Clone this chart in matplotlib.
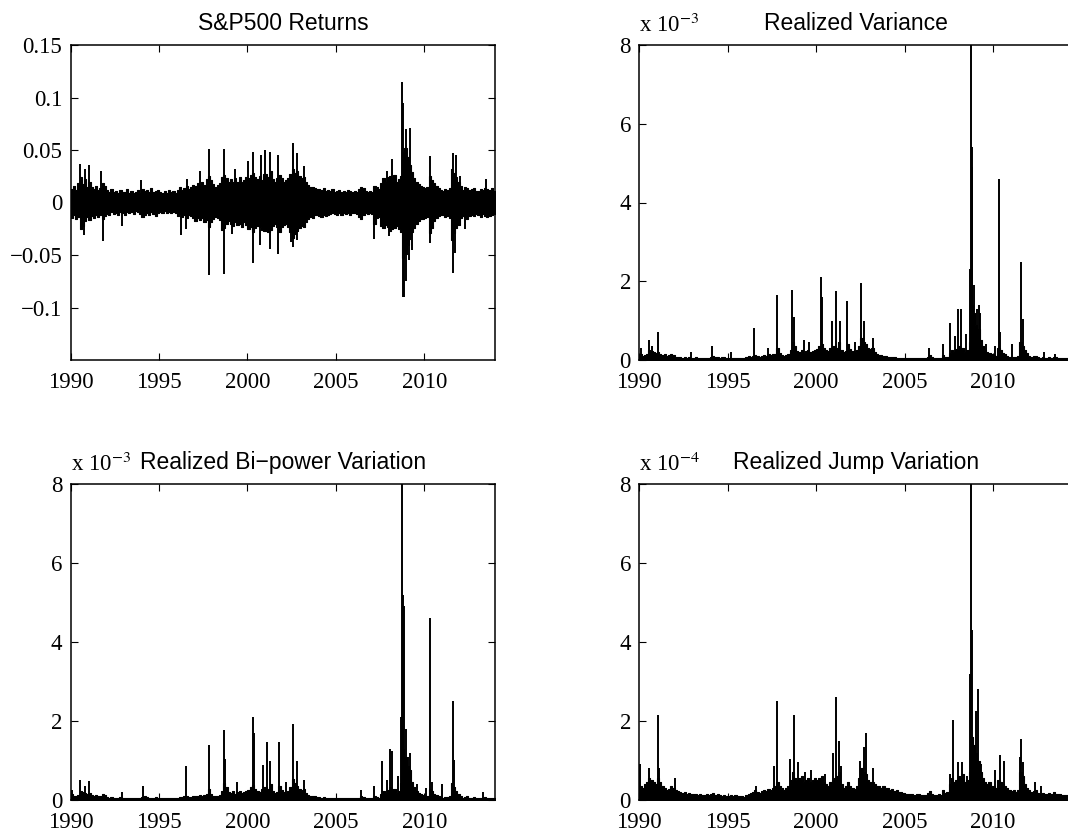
# -*- coding: utf-8 -*-

import numpy as np
import matplotlib.pyplot as plt

plt.rcParams['font.family'] = ['Liberation Serif', 'DejaVu Serif']
plt.rcParams['mathtext.fontset'] = 'stix'

# time grid: 8 steps per year, 1990 .. 2014
t0 = 1990.0
steps_per_year = 8

# S&P500 daily returns, envelope of the dense band (units of 0.01)
ret_up = [
    1.3, 1.6, 1.2, 1.9, 2.4, 1.8, 2.2, 1.5,   # 1990
    2.0, 1.5, 1.3, 1.6, 1.2, 1.4, 1.9, 1.6,   # 1991
    1.2, 1.0, 1.3, 1.0, 1.1, 0.9, 1.2, 1.0,   # 1992
    1.0, 1.3, 0.9, 1.1, 0.9, 1.0, 1.2, 0.9,   # 1993
    1.3, 1.1, 1.2, 1.0, 1.4, 1.0, 1.1, 1.2,   # 1994
    1.0, 0.9, 1.1, 0.9, 1.2, 1.0, 1.1, 0.9,   # 1995
    1.2, 1.5, 1.2, 1.4, 1.6, 1.3, 1.5, 1.7,   # 1996
    1.6, 1.9, 1.7, 2.0, 1.7, 2.2, 2.5, 2.1,   # 1997
    1.8, 1.5, 1.7, 1.9, 2.4, 2.6, 2.3, 2.0,   # 1998
    2.2, 2.0, 2.3, 2.0, 2.4, 2.0, 2.1, 2.4,   # 1999
    2.3, 2.6, 2.8, 2.4, 2.2, 2.5, 2.1, 2.7,   # 2000
    2.7, 2.4, 3.0, 2.2, 2.0, 2.3, 2.6, 2.3,   # 2001
    2.0, 2.1, 2.3, 2.7, 3.2, 2.8, 3.0, 2.5,   # 2002
    2.3, 2.4, 2.0, 1.7, 1.5, 1.5, 1.4, 1.3,   # 2003
    1.3, 1.2, 1.4, 1.1, 1.2, 1.1, 1.3, 1.0,   # 2004
    1.1, 1.2, 1.0, 1.1, 1.0, 1.2, 1.1, 1.0,   # 2005
    1.1, 1.0, 1.3, 1.5, 1.4, 1.1, 1.0, 1.1,   # 2006
    1.0, 1.6, 1.5, 1.3, 1.9, 2.3, 2.0, 2.4,   # 2007
    2.5, 2.3, 2.6, 2.0, 2.2, 2.5, 4.8, 5.2,   # 2008
    4.3, 3.6, 2.9, 2.3, 2.0, 1.8, 1.6, 1.5,   # 2009
    1.4, 1.5, 2.5, 2.1, 1.9, 1.6, 1.4, 1.2,   # 2010
    1.1, 1.3, 1.2, 1.4, 3.2, 2.8, 2.4, 2.0,   # 2011
    1.6, 1.2, 1.5, 1.4, 1.2, 1.3, 1.4, 1.1,   # 2012
    1.1, 1.3, 1.2, 1.4, 1.3, 1.2, 1.4, 1.1,   # 2013
]
ret_dn = [
    1.5, 1.2, 1.6, 1.4, 2.5, 2.2, 1.8, 1.4,   # 1990
    1.7, 1.3, 1.5, 1.2, 1.4, 1.2, 1.6, 1.3,   # 1991
    1.1, 1.2, 0.9, 1.1, 1.0, 1.2, 0.9, 1.0,   # 1992
    1.2, 0.9, 1.0, 0.9, 1.1, 0.8, 0.9, 1.1,   # 1993
    1.4, 1.2, 1.0, 1.2, 0.9, 1.1, 1.3, 1.0,   # 1994
    0.9, 1.0, 0.8, 1.0, 0.9, 1.0, 0.9, 1.0,   # 1995
    1.3, 1.1, 1.4, 1.2, 1.5, 1.2, 1.3, 1.5,   # 1996
    1.8, 1.5, 1.7, 1.5, 1.9, 1.7, 2.3, 1.9,   # 1997
    1.6, 1.4, 1.5, 1.7, 2.6, 2.4, 2.0, 1.8,   # 1998
    2.0, 2.2, 1.9, 2.1, 2.0, 2.3, 1.9, 2.1,   # 1999
    2.5, 2.3, 2.8, 2.4, 2.2, 2.3, 2.6, 2.7,   # 2000
    2.7, 2.8, 2.6, 2.2, 2.0, 2.3, 2.8, 2.3,   # 2001
    2.1, 2.0, 2.3, 2.8, 3.4, 3.0, 2.7, 2.4,   # 2002
    2.2, 2.3, 1.9, 1.6, 1.4, 1.5, 1.2, 1.2,   # 2003
    1.3, 1.4, 1.2, 1.3, 1.2, 1.1, 1.0, 1.1,   # 2004
    1.2, 1.0, 1.2, 1.0, 1.1, 1.0, 1.2, 1.0,   # 2005
    1.0, 1.1, 1.4, 1.6, 1.2, 1.0, 1.1, 1.0,   # 2006
    1.1, 2.0, 1.5, 1.4, 2.2, 2.4, 2.1, 2.3,   # 2007
    2.7, 2.5, 2.4, 2.2, 2.5, 2.8, 5.3, 4.9,   # 2008
    4.0, 3.5, 2.8, 2.4, 2.0, 1.8, 1.6, 1.6,   # 2009
    1.5, 1.4, 2.9, 2.4, 1.8, 1.5, 1.3, 1.2,   # 2010
    1.2, 1.4, 1.3, 1.5, 3.6, 2.9, 2.4, 2.1,   # 2011
    1.5, 1.3, 1.4, 1.6, 1.3, 1.2, 1.3, 1.1,   # 2012
    1.2, 1.4, 1.1, 1.3, 1.4, 1.3, 1.2, 1.1,   # 2013
]
# single large daily returns (year, return)
ret_spikes = [
    (1990.55, 0.037), (1990.8, 0.032), (1991.05, 0.036), (1991.7, 0.030),
    (1994.0, 0.021), (1996.6, 0.022), (1997.3, 0.030), (1997.8, 0.051),
    (1998.65, 0.051), (1999.3, 0.032), (2000.05, 0.040), (2000.3, 0.048),
    (2000.75, 0.045), (2001.0, 0.050), (2001.3, 0.048), (2001.75, 0.045),
    (2002.55, 0.057), (2002.6, 0.050), (2002.8, 0.047), (2003.2, 0.035),
    (2007.9, 0.030), (2008.2, 0.041), (2008.75, 0.115), (2008.8, 0.095),
    (2008.95, 0.070), (2009.2, 0.071), (2010.35, 0.044), (2011.6, 0.047),
    (2011.8, 0.045), (2012.0, 0.025), (2013.5, 0.022),
    (1990.75, -0.031), (1991.85, -0.037), (1992.9, -0.022), (1996.25, -0.031),
    (1996.55, -0.025), (1997.8, -0.069), (1998.65, -0.068), (1999.15, -0.030),
    (2000.3, -0.058), (2000.7, -0.040), (2001.25, -0.044), (2001.7, -0.049),
    (2002.45, -0.038), (2002.55, -0.042), (2002.8, -0.036), (2007.15, -0.035),
    (2008.0, -0.032), (2008.8, -0.090), (2008.85, -0.090), (2008.95, -0.075),
    (2009.15, -0.055), (2009.3, -0.045), (2010.35, -0.039), (2011.6, -0.067),
    (2011.75, -0.048), (2012.3, -0.025),
]

# realized variance, level of the dense base (units of 1e-3)
rv_base = [
    0.15, 0.10, 0.12, 0.14, 0.25, 0.22, 0.20, 0.18,   # 1990
    0.20, 0.15, 0.12, 0.14, 0.10, 0.12, 0.16, 0.13,   # 1991
    0.08, 0.07, 0.08, 0.06, 0.07, 0.06, 0.08, 0.06,   # 1992
    0.06, 0.07, 0.05, 0.06, 0.05, 0.06, 0.05, 0.05,   # 1993
    0.08, 0.10, 0.08, 0.07, 0.06, 0.07, 0.08, 0.06,   # 1994
    0.05, 0.05, 0.06, 0.05, 0.06, 0.05, 0.05, 0.06,   # 1995
    0.07, 0.09, 0.08, 0.10, 0.12, 0.09, 0.08, 0.10,   # 1996
    0.12, 0.10, 0.15, 0.12, 0.14, 0.16, 0.30, 0.18,   # 1997
    0.12, 0.10, 0.12, 0.15, 0.25, 0.45, 0.35, 0.22,   # 1998
    0.20, 0.25, 0.18, 0.22, 0.25, 0.20, 0.22, 0.25,   # 1999
    0.28, 0.35, 0.40, 0.30, 0.25, 0.22, 0.30, 0.35,   # 2000
    0.35, 0.30, 0.45, 0.25, 0.20, 0.22, 0.40, 0.28,   # 2001
    0.22, 0.20, 0.25, 0.35, 0.55, 0.45, 0.40, 0.30,   # 2002
    0.28, 0.30, 0.20, 0.15, 0.12, 0.12, 0.10, 0.09,   # 2003
    0.08, 0.07, 0.08, 0.07, 0.06, 0.06, 0.06, 0.05,   # 2004
    0.05, 0.06, 0.05, 0.05, 0.05, 0.06, 0.05, 0.05,   # 2005
    0.05, 0.05, 0.07, 0.12, 0.08, 0.05, 0.05, 0.05,   # 2006
    0.05, 0.12, 0.08, 0.07, 0.18, 0.25, 0.20, 0.28,   # 2007
    0.35, 0.30, 0.30, 0.20, 0.25, 0.45, 1.40, 1.20,   # 2008
    0.90, 0.80, 0.50, 0.35, 0.25, 0.20, 0.18, 0.15,   # 2009
    0.12, 0.10, 0.30, 0.25, 0.18, 0.15, 0.10, 0.08,   # 2010
    0.07, 0.08, 0.08, 0.10, 0.45, 0.35, 0.25, 0.18,   # 2011
    0.10, 0.07, 0.09, 0.10, 0.07, 0.06, 0.08, 0.06,   # 2012
    0.06, 0.07, 0.06, 0.08, 0.07, 0.06, 0.06, 0.06,   # 2013
]
rv_spikes = [
    (1990.1, 0.3), (1990.55, 0.5), (1990.7, 0.35), (1991.05, 0.7),
    (1992.9, 0.2), (1994.1, 0.35), (1995.2, 0.2), (1996.5, 0.82),
    (1997.3, 0.3), (1997.8, 1.65), (1998.65, 1.78), (1998.75, 1.1),
    (1999.3, 0.5), (1999.6, 0.45), (2000.3, 2.1), (2000.36, 1.6),
    (2000.9, 1.0), (2001.15, 1.75), (2001.35, 1.0), (2001.72, 1.5),
    (2002.2, 0.45), (2002.55, 1.95), (2002.7, 1.0), (2003.2, 0.55),
    (2006.4, 0.3), (2007.15, 0.4), (2007.6, 0.95), (2007.85, 0.6),
    (2008.05, 1.3), (2008.2, 1.3), (2008.5, 0.65), (2008.68, 2.3),
    (2008.75, 8.5), (2008.8, 5.4), (2008.84, 4.9), (2008.95, 1.9),
    (2009.1, 1.3), (2009.2, 1.4), (2009.27, 1.2), (2009.6, 0.4),
    (2010.1, 0.35), (2010.35, 4.6), (2010.4, 0.7), (2011.1, 0.4),
    (2011.6, 2.5), (2011.7, 1.05), (2012.9, 0.2), (2013.5, 0.15),
]

# realized bi-power variation (units of 1e-3)
bv_base = [
    0.14, 0.10, 0.11, 0.13, 0.22, 0.20, 0.18, 0.16,   # 1990
    0.17, 0.13, 0.11, 0.12, 0.09, 0.11, 0.14, 0.12,   # 1991
    0.07, 0.06, 0.07, 0.06, 0.06, 0.05, 0.07, 0.05,   # 1992
    0.05, 0.06, 0.05, 0.05, 0.05, 0.05, 0.05, 0.04,   # 1993
    0.07, 0.09, 0.07, 0.06, 0.05, 0.06, 0.07, 0.05,   # 1994
    0.05, 0.04, 0.05, 0.05, 0.05, 0.04, 0.05, 0.05,   # 1995
    0.06, 0.08, 0.07, 0.09, 0.11, 0.08, 0.07, 0.09,   # 1996
    0.11, 0.09, 0.13, 0.11, 0.13, 0.14, 0.28, 0.16,   # 1997
    0.11, 0.09, 0.11, 0.13, 0.22, 0.42, 0.32, 0.20,   # 1998
    0.18, 0.22, 0.16, 0.20, 0.22, 0.18, 0.20, 0.22,   # 1999
    0.25, 0.32, 0.38, 0.28, 0.22, 0.20, 0.27, 0.32,   # 2000
    0.32, 0.27, 0.40, 0.22, 0.18, 0.20, 0.36, 0.25,   # 2001
    0.20, 0.18, 0.22, 0.32, 0.52, 0.42, 0.36, 0.27,   # 2002
    0.25, 0.27, 0.18, 0.13, 0.11, 0.11, 0.09, 0.08,   # 2003
    0.07, 0.06, 0.07, 0.06, 0.05, 0.05, 0.05, 0.05,   # 2004
    0.05, 0.05, 0.05, 0.04, 0.05, 0.05, 0.05, 0.04,   # 2005
    0.04, 0.05, 0.06, 0.11, 0.07, 0.05, 0.04, 0.05,   # 2006
    0.05, 0.10, 0.07, 0.06, 0.16, 0.22, 0.18, 0.25,   # 2007
    0.32, 0.27, 0.27, 0.18, 0.22, 0.42, 1.30, 1.10,   # 2008
    0.85, 0.75, 0.45, 0.32, 0.22, 0.18, 0.16, 0.13,   # 2009
    0.11, 0.09, 0.28, 0.22, 0.16, 0.13, 0.09, 0.07,   # 2010
    0.06, 0.07, 0.07, 0.09, 0.42, 0.32, 0.22, 0.16,   # 2011
    0.09, 0.06, 0.08, 0.09, 0.06, 0.05, 0.07, 0.05,   # 2012
    0.05, 0.06, 0.05, 0.07, 0.06, 0.05, 0.05, 0.05,   # 2013
]
bv_spikes = [
    (1990.1, 0.25), (1990.55, 0.5), (1990.8, 0.35), (1991.05, 0.48),
    (1992.9, 0.2), (1994.1, 0.35), (1996.5, 0.85), (1997.8, 1.4),
    (1998.65, 1.78), (1998.75, 1.05), (1999.4, 0.45), (2000.3, 2.1),
    (2000.36, 1.7), (2000.85, 0.88), (2001.1, 1.48), (2001.3, 1.0),
    (2001.8, 1.47), (2002.2, 0.45), (2002.55, 1.93), (2002.8, 1.0),
    (2003.2, 0.5), (2006.4, 0.25), (2007.15, 0.35), (2007.6, 0.98),
    (2007.9, 0.5), (2008.05, 1.3), (2008.2, 1.25), (2008.5, 0.6),
    (2008.7, 2.1), (2008.75, 8.5), (2008.82, 5.2), (2008.87, 4.9),
    (2008.95, 1.8), (2009.1, 1.1), (2009.2, 1.2), (2009.6, 0.4),
    (2010.1, 0.3), (2010.35, 4.6), (2010.42, 0.45), (2011.0, 0.4),
    (2011.6, 2.5), (2011.7, 1.02), (2013.3, 0.2),
]

# realized jump variation (units of 1e-4)
jv_base = [
    0.35, 0.30, 0.40, 0.45, 0.55, 0.50, 0.45, 0.40,   # 1990
    0.55, 0.45, 0.35, 0.30, 0.25, 0.28, 0.35, 0.30,   # 1991
    0.25, 0.22, 0.20, 0.18, 0.20, 0.15, 0.18, 0.15,   # 1992
    0.15, 0.14, 0.12, 0.15, 0.13, 0.12, 0.14, 0.12,   # 1993
    0.15, 0.18, 0.12, 0.14, 0.12, 0.10, 0.12, 0.10,   # 1994
    0.10, 0.12, 0.10, 0.12, 0.10, 0.09, 0.10, 0.08,   # 1995
    0.12, 0.15, 0.18, 0.20, 0.25, 0.20, 0.18, 0.22,   # 1996
    0.25, 0.22, 0.28, 0.25, 0.30, 0.35, 0.45, 0.35,   # 1997
    0.30, 0.25, 0.30, 0.35, 0.50, 0.70, 0.55, 0.50,   # 1998
    0.55, 0.60, 0.45, 0.50, 0.55, 0.45, 0.50, 0.55,   # 1999
    0.50, 0.55, 0.60, 0.45, 0.40, 0.35, 0.45, 0.50,   # 2000
    0.55, 0.60, 0.70, 0.40, 0.30, 0.35, 0.45, 0.35,   # 2001
    0.30, 0.28, 0.35, 0.55, 0.80, 0.70, 0.65, 0.50,   # 2002
    0.45, 0.45, 0.40, 0.35, 0.35, 0.30, 0.35, 0.30,   # 2003
    0.30, 0.25, 0.28, 0.22, 0.25, 0.20, 0.20, 0.18,   # 2004
    0.15, 0.15, 0.14, 0.15, 0.12, 0.14, 0.15, 0.12,   # 2005
    0.12, 0.12, 0.18, 0.22, 0.15, 0.12, 0.12, 0.15,   # 2006
    0.12, 0.25, 0.18, 0.20, 0.40, 0.55, 0.45, 0.50,   # 2007
    0.60, 0.55, 0.65, 0.45, 0.50, 0.70, 1.60, 1.40,   # 2008
    1.20, 1.00, 0.70, 0.55, 0.45, 0.40, 0.45, 0.35,   # 2009
    0.35, 0.30, 0.50, 0.45, 0.40, 0.35, 0.30, 0.25,   # 2010
    0.22, 0.25, 0.20, 0.25, 0.70, 0.60, 0.40, 0.30,   # 2011
    0.25, 0.20, 0.22, 0.25, 0.18, 0.15, 0.18, 0.15,   # 2012
    0.15, 0.18, 0.15, 0.20, 0.15, 0.14, 0.15, 0.12,   # 2013
]
jv_spikes = [
    (1990.02, 0.9), (1990.55, 0.8), (1991.05, 2.15), (1991.12, 0.8),
    (1992.0, 0.55), (1996.6, 0.35), (1997.6, 0.85), (1997.8, 2.5),
    (1998.55, 1.05), (1998.75, 2.15), (1999.0, 0.95), (1999.35, 0.7),
    (1999.7, 0.75), (2000.5, 0.65), (2000.95, 1.2), (2001.15, 2.62),
    (2001.3, 1.5), (2001.4, 0.85), (2002.5, 1.0), (2002.7, 1.35),
    (2002.85, 1.7), (2003.2, 0.8), (2007.55, 0.65), (2007.75, 2.02),
    (2008.05, 0.95), (2008.25, 0.95), (2008.55, 0.6), (2008.72, 3.2),
    (2008.75, 8.5), (2008.82, 4.3), (2008.95, 1.4), (2009.05, 2.25),
    (2009.15, 2.8), (2009.35, 0.9), (2010.1, 0.75), (2010.4, 1.15),
    (2010.65, 1.0), (2011.55, 1.1), (2011.6, 1.55), (2011.7, 0.95),
    (2012.4, 0.45), (2012.7, 0.35),
]

year_ticks = [1990, 1995, 2000, 2005, 2010]
W, H = 1068.0, 836.0


def add_axes(fig, left, top, right, bottom):
    return fig.add_axes([left / W, 1 - bottom / H, (right - left) / W, (bottom - top) / H])


def style(ax, xmax, right=True):
    ax.set_xlim(1990, xmax)
    ax.set_xticks(year_ticks)
    ax.set_xticklabels([str(y) for y in year_ticks])
    ax.tick_params(direction='in', top=True, right=right, length=5, width=0.8,
                   labelsize=16.5, pad=6)
    ax.tick_params(axis='x', pad=9)
    for s in ax.spines.values():
        s.set_linewidth(1.1)


def band(ax, lo, hi, xmax):
    n = len(hi)
    edges = t0 + np.arange(n + 1) / steps_per_year
    edges[-1] = xmax
    lo = np.append(lo, lo[-1])
    hi = np.append(hi, hi[-1])
    ax.fill_between(edges, lo, hi, step='post', color='k', lw=0.8, edgecolor='k')


def spikes(ax, pairs, scale):
    ts = [p[0] for p in pairs]
    vs = [p[1] * scale for p in pairs]
    ax.vlines(ts, 0, vs, color='k', lw=1.4)


def realized(ax, base, spk, title, expo, xmax, right=True):
    band(ax, np.zeros(len(base)), np.array(base), xmax)
    spikes(ax, spk, 1.0)
    ax.set_ylim(0, 8)
    ax.set_yticks([0, 2, 4, 6, 8])
    ax.set_yticklabels(['0', '2', '4', '6', '8'])
    style(ax, xmax, right)
    ax.set_title(title, family='Liberation Sans', fontsize=16.5, pad=11)
    ax.text(0.0, 1.025, 'x 10$^{%s}$' % expo, transform=ax.transAxes,
            fontsize=16.5, ha='left', va='bottom')


fig = plt.figure(figsize=(10.68, 8.36), dpi=100)

# S&P500 returns
ax1 = add_axes(fig, 70.7, 45, 495, 360)
band(ax1, -np.array(ret_dn) / 100, np.array(ret_up) / 100, 2014.0)
spikes(ax1, ret_spikes, 1.0)
ax1.set_ylim(-0.15, 0.15)
ax1.set_yticks([-0.1, -0.05, 0, 0.05, 0.1, 0.15])
ax1.set_yticklabels(['\u22120.1', '\u22120.05', '0', '0.05', '0.1', '0.15'])
style(ax1, 2014.0)
ax1.set_title('S&P500 Returns', family='Liberation Sans', fontsize=16.5, pad=11)

xr = 1990 + (1072 - 639.3) / 17.68
ax2 = add_axes(fig, 639.3, 45, 1072, 360)
realized(ax2, rv_base, rv_spikes, 'Realized Variance', '-3', xr, right=False)

ax3 = add_axes(fig, 70.7, 484, 495, 800)
realized(ax3, bv_base, bv_spikes, 'Realized Bi\u2212power Variation', '-3', 2014.0)

ax4 = add_axes(fig, 639.3, 484, 1072, 800)
realized(ax4, jv_base, jv_spikes, 'Realized Jump Variation', '-4', xr, right=False)

fig.savefig('out.png', dpi=100)
